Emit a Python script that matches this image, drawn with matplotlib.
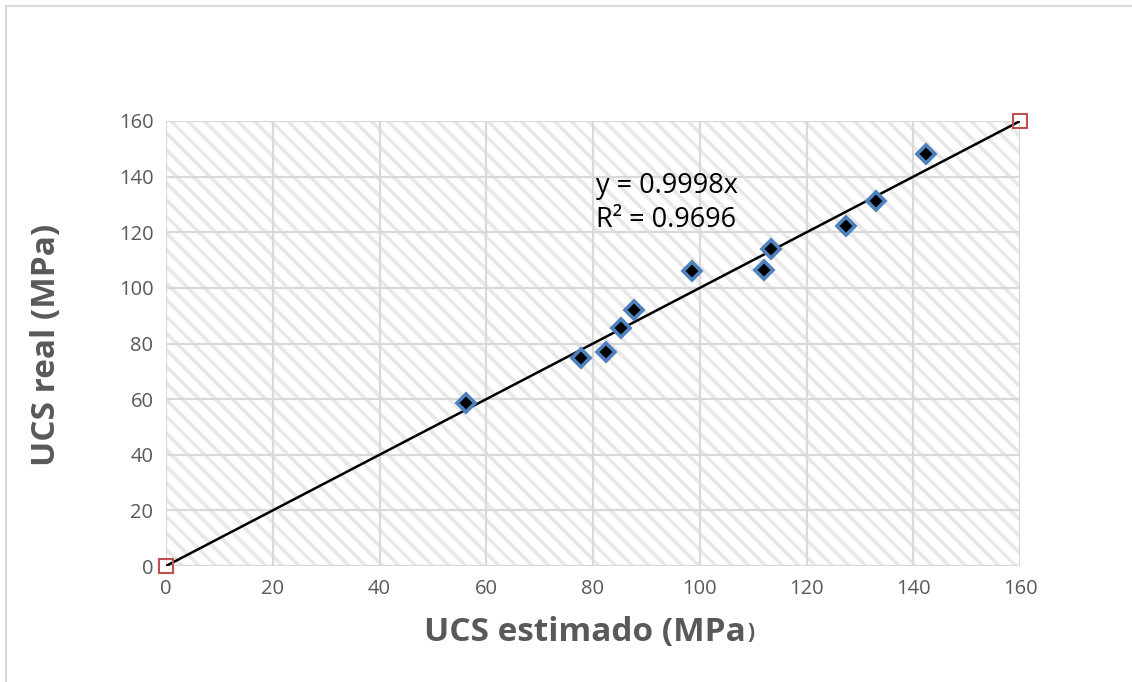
import numpy as np
import matplotlib
matplotlib.use("Agg")
import matplotlib.pyplot as plt
from matplotlib.patches import Rectangle
from matplotlib.lines import Line2D

# data (MPa)
ucs_estimado = [56.2, 77.8, 82.4, 85.2, 87.7, 98.5, 112.0, 113.3, 127.4, 133.0, 142.4]
ucs_real = [58.6, 74.8, 77.0, 85.6, 92.0, 105.9, 106.5, 114.0, 122.2, 131.3, 148.2]
# helper points of the trendline series (hollow red squares)
aux_x = [0, 160]
aux_y = [0, 160]
slope = 0.9998
r2 = 0.9696
ticks = [0, 20, 40, 60, 80, 100, 120, 140, 160]

grey = '#595959'
plt.rcParams['font.family'] = ['Open Sans', 'DejaVu Sans']

fig = plt.figure(figsize=(11.32, 6.82), dpi=100)
ax = fig.add_axes([166/1132, 1 - 566/682, 854/1132, 445/682])

# hatched plot area
plt.rcParams['hatch.linewidth'] = 2.6
bg = Rectangle((0, 0), 1, 1, transform=ax.transAxes, facecolor='white',
               edgecolor='#e8e8e8', lw=0, hatch='\\\\', zorder=0)
ax.add_patch(bg)
ax.patch.set_visible(False)

ax.set_xlim(0, 160)
ax.set_ylim(0, 160)
ax.set_xticks(ticks)
ax.set_yticks(ticks)
ax.grid(True, color='#d9d9d9', lw=1.6, zorder=1)
ax.set_axisbelow(True)
for s in ax.spines.values():
    s.set_visible(False)
ax.tick_params(length=0, labelsize=14.5, labelcolor=grey, pad=9)

# trendline
xs = np.array([0, 160])
ax.plot(xs, slope * xs, color='black', lw=1.8, zorder=3)

ax.plot(ucs_estimado, ucs_real, linestyle='none', marker='D', markersize=9,
        markerfacecolor='black', markeredgecolor='#4f81bd', markeredgewidth=2.6,
        zorder=4, clip_on=False)
ax.plot(aux_x, aux_y, linestyle='none', marker='s', markersize=10,
        markerfacecolor='none', markeredgecolor='#c0504d', markeredgewidth=1.5,
        zorder=5, clip_on=False)

ax.text(80.5, 130.5, f'y = {slope}x\nR² = {r2}', fontsize=19.5, color='black',
        linespacing=1.25, va='center', ha='left', zorder=6)

# axis titles
fig.text(47/1132, 1 - 345/682, 'UCS real (MPa)', fontsize=24, fontweight='bold',
         color=grey, rotation=90, ha='center', va='center')
xl = fig.text(585/1132, 1 - 632/682, 'UCS estimado (MPa', fontsize=24,
              fontweight='bold', color=grey, ha='center', va='center')
fig.canvas.draw()
bb = xl.get_window_extent()
fig.text(bb.x1 / 1132 + 0.001, (bb.y0 + 5) / 682, ')', fontsize=15,
         fontweight='bold', color=grey, ha='left', va='bottom')

# outer chart border (left and top visible in the reference)
fig.add_artist(Line2D([5.5/1132, 5.5/1132], [0, 1 - 5.5/682], color='#d9d9d9', lw=1.5))
fig.add_artist(Line2D([5.5/1132, 1], [1 - 5.5/682, 1 - 5.5/682], color='#d9d9d9', lw=1.5))

fig.savefig('out.png', dpi=100)
